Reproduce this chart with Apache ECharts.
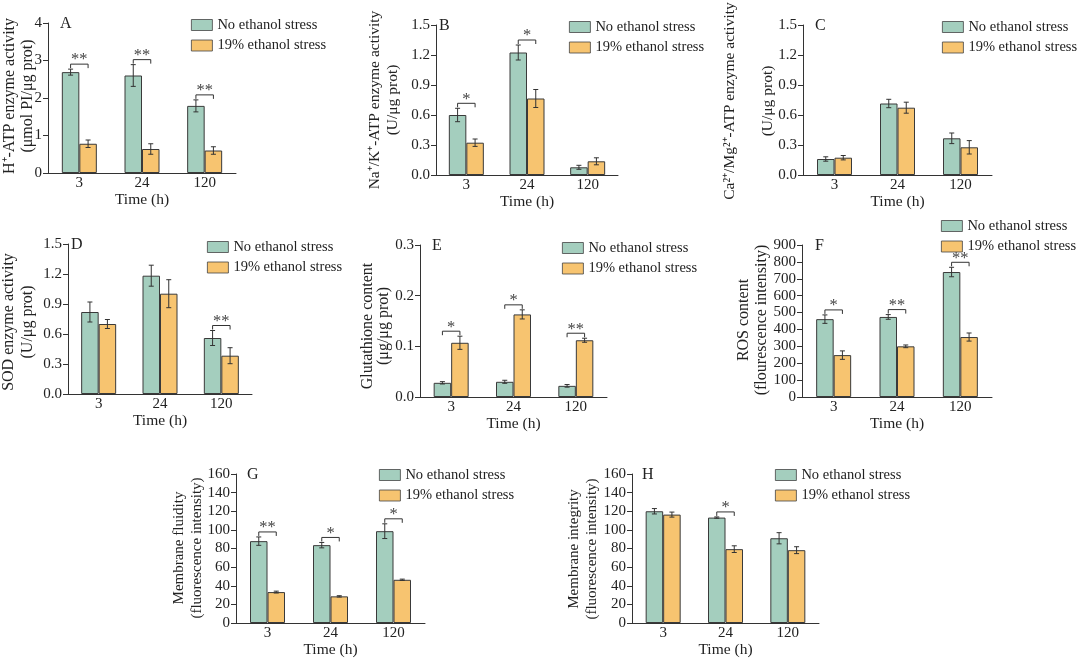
<!DOCTYPE html>
<head>
    <meta charset="utf-8">
    <script type="text/javascript" src="https://cdn.jsdelivr.net/npm/echarts@6/dist/echarts.min.js"></script>
    <style>
        html, body { margin: 0; padding: 0; background: #fff; }
    </style>
</head>
<body>
	<div id="main" style="width:1080px; height:660px"></div>
	<script type="text/javascript">
		var times = ['3', '24', '120'];
		var groupNames = ['No ethanol stress', '19% ethanol stress'];

		// A  H+-ATP
		var hAtpNo = [2.69, 2.60, 1.79];
		var hAtpNoErr = [0.08, 0.29, 0.16];
		var hAtpEth = [0.78, 0.64, 0.60];
		var hAtpEthErr = [0.10, 0.14, 0.10];
		var hAtpSig = ['**', '**', '**'];
		// B  Na+/K+-ATP
		var naKNo = [0.60, 1.225, 0.077];
		var naKNoErr = [0.067, 0.075, 0.02];
		var naKEth = [0.323, 0.765, 0.137];
		var naKEthErr = [0.037, 0.09, 0.035];
		var naKSig = ['*', '*', ''];
		// C  Ca2+/Mg2+-ATP
		var caMgNo = [0.16, 0.715, 0.367];
		var caMgNoErr = [0.022, 0.042, 0.053];
		var caMgEth = [0.173, 0.673, 0.277];
		var caMgEthErr = [0.022, 0.055, 0.067];
		var caMgSig = ['', '', ''];
		// D  SOD
		var sodNo = [0.82, 1.183, 0.56];
		var sodNoErr = [0.10, 0.105, 0.075];
		var sodEth = [0.70, 1.003, 0.383];
		var sodEthErr = [0.045, 0.14, 0.08];
		var sodSig = ['', '', '**'];
		// E  Glutathione
		var gshNo = [0.028, 0.030, 0.022];
		var gshNoErr = [0.0023, 0.003, 0.0026];
		var gshEth = [0.107, 0.163, 0.112];
		var gshEthErr = [0.013, 0.009, 0.004];
		var gshSig = ['*', '*', '**'];
		// F  ROS
		var rosNo = [461, 474, 740];
		var rosNoErr = [25, 14, 28];
		var rosEth = [248, 300, 355];
		var rosEthErr = [25, 8, 24];
		var rosSig = ['*', '**', '**'];
		// G  Membrane fluidity
		var fluidNo = [87.9, 83.6, 98.6];
		var fluidNoErr = [4.5, 2.9, 7.9];
		var fluidEth = [33.2, 28.6, 46.4];
		var fluidEthErr = [1.0, 0.7, 0.7];
		var fluidSig = ['**', '*', '*'];
		// H  Membrane integrity
		var integNo = [120, 113.2, 91];
		var integNoErr = [2.9, 0.7, 6];
		var integEth = [116.4, 79.3, 78.2];
		var integEthErr = [2.7, 3.6, 3.7];
		var integSig = ['', '*', ''];

		var FONT = '"Liberation Serif", "Times New Roman", serif';
		var INK = '#222';
		var LINE = '#333';
		var BAR_W = 17.5;
		var colors = ['#a4cebe', '#f7c470'];

		var panels = [
			{tag: 'A', no: hAtpNo, noErr: hAtpNoErr, eth: hAtpEth, ethErr: hAtpEthErr, sig: hAtpSig,
			 max: 4, step: 1, digits: 0, label: ['H\u207A-ATP enzyme activity', '(\u03BCmol PI/\u03BCg prot)'],
			 grid: [48, 23, 188, 150], legend: [186, 12.5], yl: [10, 28, 96], lfs: 16, dx: 12},
			{tag: 'B', no: naKNo, noErr: naKNoErr, eth: naKEth, ethErr: naKEthErr, sig: naKSig,
			 max: 1.5, step: 0.3, digits: 1, label: ['Na\u207A/K\u207A-ATP enzyme activity', '(U/\u03BCg prot)'],
			 grid: [436, 25, 182, 150], legend: [564, 14.5], yl: [375, 393, 100], lfs: 15.5, dx: 3},
			{tag: 'C', no: caMgNo, noErr: caMgNoErr, eth: caMgEth, ethErr: caMgEthErr, sig: caMgSig,
			 max: 1.5, step: 0.3, digits: 1, label: ['Ca\u00B2\u207A/Mg\u00B2\u207A-ATP enzyme activity', '(U/\u03BCg prot)'],
			 grid: [803, 25, 189, 150], legend: [937, 14.5], yl: [730, 768, 101], lfs: 15.5, dx: 12},
			{tag: 'D', no: sodNo, noErr: sodNoErr, eth: sodEth, ethErr: sodEthErr, sig: sodSig,
			 max: 1.5, step: 0.3, digits: 1, label: ['SOD enzyme activity', '(U/\u03BCg prot)'],
			 grid: [68, 244, 184, 150], legend: [202, 234.5], yl: [9, 27.5, 322], lfs: 16, dx: 3},
			{tag: 'E', no: gshNo, noErr: gshNoErr, eth: gshEth, ethErr: gshEthErr, sig: gshSig,
			 max: 0.3, step: 0.1, digits: 1, label: ['Glutathione content', '(\u03BCg/\u03BCg prot)'],
			 grid: [420, 245, 187, 152], legend: [557, 235.5], yl: [368, 384, 326], lfs: 16, dx: 12},
			{tag: 'F', no: rosNo, noErr: rosNoErr, eth: rosEth, ethErr: rosEthErr, sig: rosSig,
			 max: 900, step: 100, digits: 0, label: ['ROS content', '(flourescence intensity)'],
			 grid: [802, 245, 190, 152], legend: [936, 213.5], yl: [744, 762, 320], lfs: 16, dx: 13},
			{tag: 'G', no: fluidNo, noErr: fluidNoErr, eth: fluidEth, ethErr: fluidEthErr, sig: fluidSig,
			 max: 160, step: 20, digits: 0, label: ['Membrane fluidity', '(fluorescence intensity)'],
			 grid: [236, 474, 189, 149], legend: [374, 462.5], yl: [179, 197, 548], lfs: 15, dx: 11},
			{tag: 'H', no: integNo, noErr: integNoErr, eth: integEth, ethErr: integEthErr, sig: integSig,
			 max: 160, step: 20, digits: 0, label: ['Membrane integrity', '(fluorescence intensity)'],
			 grid: [632, 474, 187, 149], legend: [770, 462.5], yl: [574, 592, 549], lfs: 15, dx: 10}
		];

		function renderError(params, api) {
			var cat = api.value(0), v = api.value(1), e = api.value(2), g = api.value(3);
			var cx = api.coord([cat, v])[0] + (g === 0 ? -1 : 1) * BAR_W / 2;
			var yt = api.coord([cat, v + e])[1];
			var yb = api.coord([cat, v - e])[1];
			var st = {stroke: LINE, lineWidth: 1};
			return {type: 'group', children: [
				{type: 'line', shape: {x1: cx, y1: yt, x2: cx, y2: yb}, style: st},
				{type: 'line', shape: {x1: cx - 2.5, y1: yt, x2: cx + 2.5, y2: yt}, style: st},
				{type: 'line', shape: {x1: cx - 2.5, y1: yb, x2: cx + 2.5, y2: yb}, style: st}
			]};
		}

		function bracketRenderer(sig) {
			return function (params, api) {
				var cat = api.value(0);
				var c = api.coord([cat, api.value(1)]);
				var y = c[1] - 5;
				var x1 = c[0] - BAR_W / 2, x2 = c[0] + BAR_W / 2;
				var st = {stroke: LINE, lineWidth: 1};
				return {type: 'group', children: [
					{type: 'line', shape: {x1: x1, y1: y, x2: x2, y2: y}, style: st},
					{type: 'line', shape: {x1: x1, y1: y, x2: x1, y2: y + 4}, style: st},
					{type: 'line', shape: {x1: x2, y1: y, x2: x2, y2: y + 4}, style: st},
					{type: 'text', x: c[0], y: y - 4, style: {text: sig[cat], fill: '#444',
						fontFamily: FONT, fontSize: 16.5, align: 'center', verticalAlign: 'middle'}}
				]};
			};
		}

		var grids = [], xAxes = [], yAxes = [], series = [], legends = [], graphics = [];

		panels.forEach(function (p, k) {
			grids.push({left: p.grid[0], top: p.grid[1], width: p.grid[2], height: p.grid[3]});
			xAxes.push({
				type: 'category', gridIndex: k, data: times,
				axisLine: {lineStyle: {color: LINE, width: 1}},
				axisTick: {inside: true, length: 5, lineStyle: {color: LINE}},
				axisLabel: {color: INK, fontFamily: FONT, fontSize: 15, margin: 3},
				name: 'Time (h)', nameLocation: 'middle', nameGap: 19,
				nameTextStyle: {color: INK, fontFamily: FONT, fontSize: 15.5}
			});
			yAxes.push({
				type: 'value', gridIndex: k, min: 0, max: p.max, interval: p.step,
				axisLine: {show: true, lineStyle: {color: LINE, width: 1}},
				axisTick: {show: true, length: 5, lineStyle: {color: LINE}},
				splitLine: {show: false},
				axisLabel: {color: INK, fontFamily: FONT, fontSize: 15, margin: 6,
					formatter: (function (d) { return function (v) { return v.toFixed(d); }; })(p.digits)}
			});
			[p.no, p.eth].forEach(function (vals, g) {
				series.push({
					type: 'bar', name: groupNames[g], xAxisIndex: k, yAxisIndex: k,
					data: vals, barWidth: BAR_W, barGap: '0%',
					itemStyle: {color: colors[g], borderColor: '#3a3a3a', borderWidth: 1},
					emphasis: {disabled: true}
				});
			});
			var errData = [];
			for (var i = 0; i < times.length; i++) {
				errData.push([i, p.no[i], p.noErr[i], 0]);
				errData.push([i, p.eth[i], p.ethErr[i], 1]);
			}
			series.push({type: 'custom', xAxisIndex: k, yAxisIndex: k, renderItem: renderError,
				data: errData, z: 5, silent: true});
			var sigData = [];
			for (var j = 0; j < times.length; j++) {
				if (p.sig[j]) {
					sigData.push([j, Math.max(p.no[j] + p.noErr[j], p.eth[j] + p.ethErr[j])]);
				}
			}
			if (sigData.length) {
				series.push({type: 'custom', xAxisIndex: k, yAxisIndex: k, renderItem: bracketRenderer(p.sig),
					data: sigData, z: 6, silent: true});
			}
			legends.push({
				orient: 'vertical', left: p.legend[0], top: p.legend[1], icon: 'rect',
				itemWidth: 21, itemHeight: 11, itemGap: 5.5, data: groupNames,
				itemStyle: {borderWidth: 0.8, borderColor: '#444'},
				textStyle: {color: INK, fontFamily: FONT, fontSize: 14.5}
			});
			graphics.push({type: 'text', x: p.grid[0] + p.dx, y: p.grid[1] + 1,
				style: {text: p.tag, fill: INK, fontFamily: FONT, fontSize: 16, align: 'left', verticalAlign: 'middle'}});
			graphics.push({type: 'text', x: p.yl[0], y: p.yl[2], rotation: Math.PI / 2,
				style: {text: p.label[0], fill: INK, fontFamily: FONT, fontSize: p.lfs, align: 'center', verticalAlign: 'middle'}});
			graphics.push({type: 'text', x: p.yl[1], y: p.yl[2], rotation: Math.PI / 2,
				style: {text: p.label[1], fill: INK, fontFamily: FONT, fontSize: p.lfs, align: 'center', verticalAlign: 'middle'}});
		});

		var myChart = echarts.init(document.getElementById('main'));
		var option = {
			animation: false,
			backgroundColor: '#fff',
			grid: grids,
			xAxis: xAxes,
			yAxis: yAxes,
			legend: legends,
			graphic: graphics,
			series: series
		};
		myChart.setOption(option);
	</script>
</body>
